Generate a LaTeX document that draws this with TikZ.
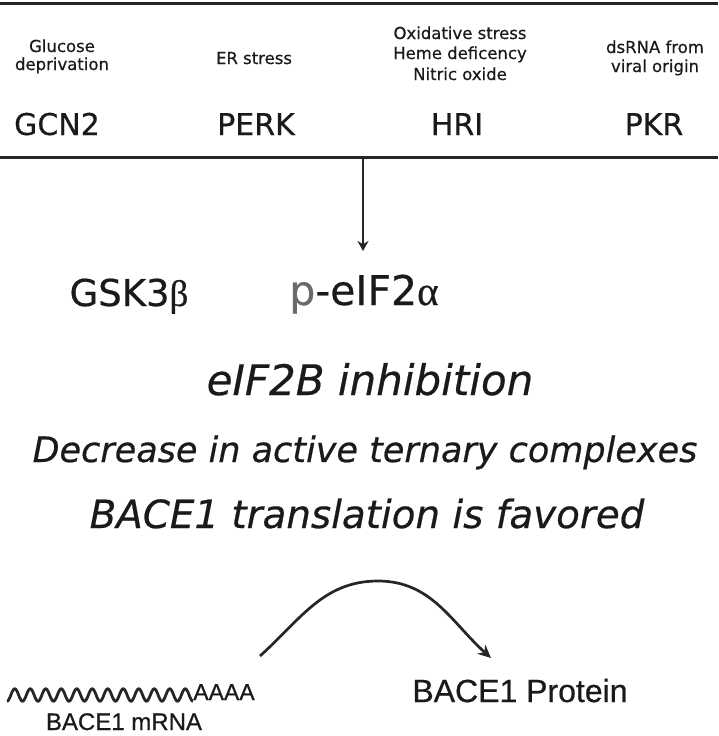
\documentclass[tikz,border=0pt]{standalone}
\usepackage{fontspec}
\setmainfont{DejaVu Sans}[ItalicFont={DejaVu Sans Oblique}, FakeBold=0.5]
\newfontfamily\arialf{Liberation Sans}[FakeBold=0.6]
\newfontfamily\symf{Liberation Serif}[FakeBold=0.5]
\usetikzlibrary{arrows.meta}
\definecolor{ink}{HTML}{1A1A1A}
\definecolor{linec}{HTML}{262626}
\definecolor{pgray}{HTML}{6A6A6A}
\begin{document}
\begin{tikzpicture}[x=1pt,y=-1pt,
  every node/.style={inner sep=0pt, outer sep=0pt, text=ink},
  cause/.style={font=\fontsize{16.5}{20}\selectfont, anchor=base},
  kinase/.style={font=\fontsize{30}{36}\selectfont, anchor=base},
  effect/.style={font=\fontsize{35}{42}\selectfont\itshape, anchor=base},
  bacelbl/.style={anchor=base},
  rulebar/.style={draw=linec, line width=3pt},
  arrowline/.style={draw=linec, line width=2.7pt, -{Stealth[length=10pt,width=11pt]}},
  wave/.style={draw=linec, line width=2.8pt, line join=round}]
\fill[white] (0,0) rectangle (718,736);
\useasboundingbox (0,0) rectangle (718,736);

% rules
\coordinate (topL) at (0,3);
\coordinate (topR) at (718,3);
\coordinate (botL) at (0,157);
\coordinate (botR) at (718,157);
\draw[rulebar] (topL) -- (topR);
\draw[rulebar] (botL) -- (botR);

% causes
\node[cause] (glu1) at (62,52) {Glucose};
\node[cause] (glu2) at (62,70) {deprivation};
\node[cause] (er) at (254,64) {ER stress};
\node[cause] (ox1) at (460,39) {Oxidative stress};
\node[cause] (ox2) at (460,59) {Heme deficency};
\node[cause] (ox3) at (460,80) {Nitric oxide};
\node[cause] (ds1) at (655,53) {dsRNA from};
\node[cause] (ds2) at (655,72) {viral origin};

% kinases
\node[kinase] (gcn2) at (57,135) {GCN2};
\node[kinase] (perk) at (256,135) {PERK};
\node[kinase] (hri) at (457,135) {HRI};
\node[kinase] (pkr) at (654,135) {PKR};

% central arrow
\coordinate (branch) at (363,157);
\coordinate (arrtip) at (363,251);
\draw[arrowline, line width=2.2pt, -{Stealth[length=10pt,width=11pt]}] (branch) -- (arrtip);

\node[anchor=base, font=\fontsize{37}{44}\selectfont] (gsk) at (129,306) {GSK3{\symf β}};
\node[anchor=base, font=\fontsize{41}{48}\selectfont] (peif) at (364,305) {\textcolor{pgray}{p}-eIF2{\symf α}};

% effects
\node[effect, font=\fontsize{42}{50}\selectfont\itshape] (inh) at (370,395) {eIF2B inhibition};
\node[effect] (dec) at (365,462) {Decrease in active ternary complexes};
\node[effect, font=\fontsize{38.8}{46}\selectfont\itshape] (fav) at (367,528) {BACE1 translation is favored};

% mRNA
\draw[wave] plot[domain=7:193, samples=400, smooth] (\x, {695 + 6.2*cos(23.2258*(\x-7))});
\node[bacelbl, font=\arialf\fontsize{23}{28}\selectfont] (aaaa) at (224,700) {AAAA};
\node[bacelbl, font=\arialf\fontsize{24}{29}\selectfont] (mrna) at (124,730) {BACE1 mRNA};
\node[bacelbl, font=\arialf\fontsize{32}{38}\selectfont] (prot) at (520,702) {BACE1 Protein};

% translation arrow
\coordinate (mstart) at (260,656);
\coordinate (peak) at (378,581);
\coordinate (ptip) at (491,658);
\draw[arrowline, -{Stealth[length=13pt,width=12pt]}] (mstart) to[out=42,in=180] (peak) to[out=0,in=138] (ptip);
\end{tikzpicture}
\end{document}
